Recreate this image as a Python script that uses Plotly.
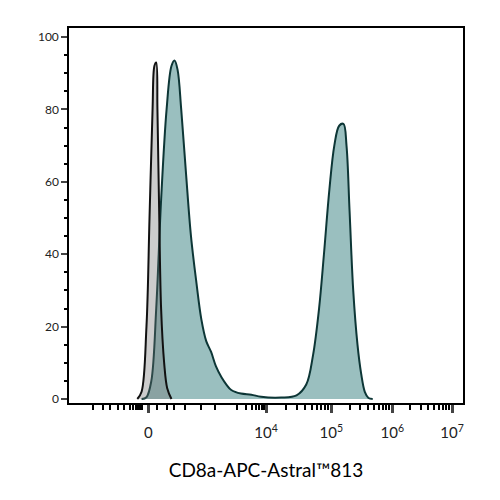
import numpy as np
import plotly.graph_objects as go

# x in display (biexponential-like) units: 0 -> "0", ~1.93 -> 10^4, 3 -> 10^5 ...
grey_x = [-0.18, -0.11, -0.03, 0.02, 0.07, 0.10, 0.13, 0.15, 0.18, 0.21, 0.26, 0.31, 0.38]
grey_y = [0, 2, 20, 50, 80, 92, 93, 80, 50, 25, 10, 3, 0]
teal_x = [-0.11, -0.03, 0.05, 0.13, 0.21, 0.30, 0.38, 0.43, 0.48, 0.54, 0.62, 0.70, 0.79, 0.87,
          0.95, 1.03, 1.11, 1.20, 1.28, 1.36, 1.52, 1.69, 1.85, 2.18, 2.43, 2.59, 2.70, 2.80,
          2.88, 2.97, 3.05, 3.13, 3.20, 3.25, 3.30, 3.36, 3.43, 3.49, 3.55, 3.61, 3.68]
teal_y = [0, 0.5, 5, 25, 55, 80, 92, 93.5, 91, 80, 62, 45, 32, 22, 16, 13, 9, 6, 4, 2.5, 1.5,
          1.2, 0.6, 0.4, 1, 4, 12, 25, 40, 58, 70, 75.5, 76, 70, 52, 30, 15, 7, 2, 0.3, 0]
major_vals = [0, 1.93, 3.0, 4.0, 4.98]
major_text = ["0", "10<sup>4</sup>", "10<sup>5</sup>", "10<sup>6</sup>", "10<sup>7</sup>"]
neg_minor = [-0.9, -0.75, -0.62, -0.5, -0.4, -0.3, -0.25, -0.2, -0.17, -0.14, -0.11]
pos_minor = [0.15, 0.3, 0.42, 0.6, 0.87, 1.1, 1.45, 1.6, 1.7, 1.77, 1.82, 1.86, 1.9]

minor = list(neg_minor) + list(pos_minor)
for a, b in zip(major_vals[1:-1], major_vals[2:]):
    for k in range(2, 10):
        minor.append(a + (b - a) * np.log10(k))

fig = go.Figure()
fig.add_trace(go.Scatter(x=teal_x, y=teal_y, mode="lines", fill="tozeroy",
                         fillcolor="rgba(120,170,170,0.75)", line=dict(color="#0d3636", width=2),
                         line_shape="spline"))
fig.add_trace(go.Scatter(x=grey_x, y=grey_y, mode="lines", fill="tozeroy",
                         fillcolor="rgba(110,110,110,0.35)", line=dict(color="#111111", width=2),
                         line_shape="spline"))
fig.update_layout(
    width=500, height=500, showlegend=False, plot_bgcolor="white", paper_bgcolor="white",
    margin=dict(l=61, r=45, t=20, b=105, autoexpand=False),
    font=dict(family="Lato", color="black"),
    xaxis=dict(range=[-1.30, 5.16], tickmode="array", tickvals=major_vals, ticktext=major_text,
               ticks="outside", ticklen=8, tickwidth=3, showgrid=False, zeroline=False,
               showline=True, linecolor="black", linewidth=2, mirror=True, automargin=False,
               ticklabelstandoff=7,
               minor=dict(tickmode="array", tickvals=minor, ticks="outside", ticklen=5,
                          tickwidth=1.5, tickcolor="black", showgrid=False),
               tickfont=dict(size=15, color="#222"),
               title=dict(text="CD8a-APC-Astral™813", font=dict(size=19), standoff=24)),
    yaxis=dict(range=[-1.1, 102.5], tickvals=[0, 20, 40, 60, 80, 100], ticks="outside",
               ticklen=6, tickwidth=1.5, showgrid=False, zeroline=False, showline=True,
               linecolor="black", linewidth=1.5, mirror=True, automargin=False,
               minor=dict(dtick=5, ticks="outside", ticklen=3, tickcolor="black"),
               tickfont=dict(size=12, color="#222")),
)
fig.write_html("out.html")
